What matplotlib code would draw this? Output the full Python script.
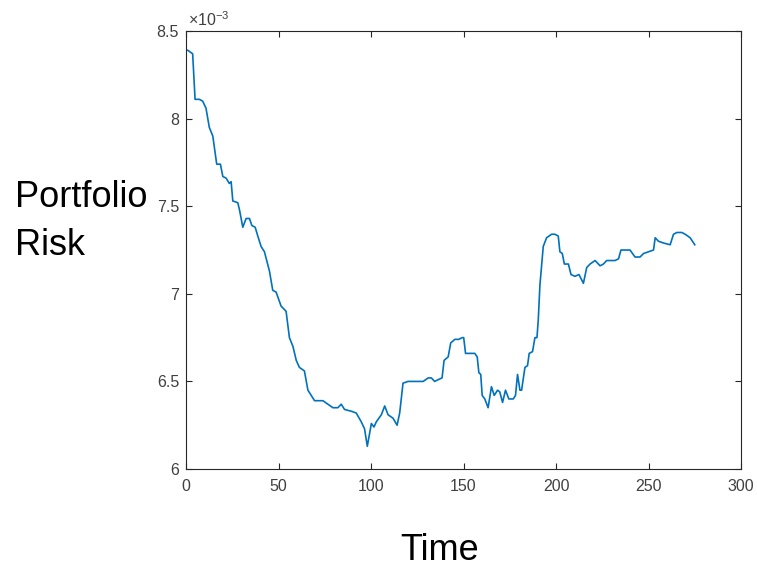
import matplotlib
matplotlib.use('Agg')
import matplotlib.pyplot as plt
from matplotlib.ticker import FuncFormatter

# portfolio risk, in units of 1e-3
time = [0, 1, 3.6, 4.9, 7.2, 9.0, 10.8, 12.6, 14.5, 16.6, 18.6, 19.9, 21.7, 23.4,
        24.4, 25.3, 28.0, 28.9, 30.7, 32.5, 34.3, 35.6, 37.4, 38.8, 40.6, 42.4,
        45.1, 46.9, 48.7, 51.4, 54.1, 55.9, 57.8, 59.6, 61.3, 64.0, 65.9, 67.7,
        69.5, 74.0, 76.7, 79.4, 82.1, 83.9, 85.7, 89.3, 92.0, 94.7, 96.5, 98.0,
        99.2, 100.2, 101.6, 102.9, 105.6, 107.4, 109.2, 111.9, 114.1, 115.5,
        117.3, 120.0, 125.4, 128.2, 130.9, 132.6, 134.4, 136.3, 138.4, 139.5,
        141.7, 143.1, 145.3, 147.4, 149.3, 150.1, 151.1, 153.4, 156.1, 157.4,
        158.3, 159.3, 160.1, 161.5, 163.3, 165.1, 166.6, 168.4, 169.6, 171.1,
        172.7, 174.5, 176.9, 178.1, 179.2, 180.5, 181.4, 183.2, 184.6, 185.5,
        187.3, 188.6, 189.7, 190.4, 191.3, 193.1, 194.9, 197.6, 199.4, 201.2,
        202.1, 203.4, 204.5, 206.7, 208.1, 210.2, 212.4, 214.8, 216.6, 218.4,
        221.1, 223.8, 225.6, 227.4, 231.9, 233.8, 235.1, 237.3, 240.0, 242.7,
        245.4, 247.3, 250.0, 252.7, 253.6, 255.4, 258.1, 261.7, 263.5, 265.3,
        268.0, 269.8, 272.5, 275.0]
risk = [8.39, 8.39, 8.37, 8.11, 8.11, 8.10, 8.06, 7.95, 7.90, 7.74, 7.74, 7.67,
        7.66, 7.63, 7.64, 7.53, 7.52, 7.48, 7.38, 7.43, 7.43, 7.39, 7.38, 7.33,
        7.27, 7.24, 7.13, 7.02, 7.01, 6.93, 6.90, 6.75, 6.70, 6.62, 6.58, 6.56,
        6.45, 6.42, 6.39, 6.39, 6.37, 6.35, 6.35, 6.37, 6.34, 6.33, 6.32, 6.27,
        6.23, 6.13, 6.20, 6.26, 6.24, 6.27, 6.31, 6.36, 6.31, 6.29, 6.25, 6.32,
        6.49, 6.50, 6.50, 6.50, 6.52, 6.52, 6.50, 6.51, 6.52, 6.62, 6.64, 6.72,
        6.74, 6.74, 6.75, 6.75, 6.66, 6.66, 6.66, 6.64, 6.55, 6.54, 6.42, 6.40,
        6.35, 6.47, 6.42, 6.45, 6.44, 6.38, 6.45, 6.40, 6.40, 6.42, 6.54, 6.45,
        6.45, 6.58, 6.59, 6.66, 6.67, 6.75, 6.75, 6.85, 7.05, 7.27, 7.32, 7.34,
        7.34, 7.33, 7.24, 7.23, 7.17, 7.17, 7.11, 7.10, 7.11, 7.06, 7.15, 7.17,
        7.19, 7.16, 7.17, 7.19, 7.19, 7.20, 7.25, 7.25, 7.25, 7.21, 7.21, 7.23,
        7.24, 7.25, 7.32, 7.30, 7.29, 7.28, 7.34, 7.35, 7.35, 7.34, 7.32, 7.28]

xticks = [0, 50, 100, 150, 200, 250, 300]
yticks = [6, 6.5, 7, 7.5, 8, 8.5]

plt.rcParams['font.family'] = ['Liberation Sans', 'DejaVu Sans']
plt.rcParams['mathtext.default'] = 'regular'

fig = plt.figure(figsize=(7.57, 5.69), dpi=100)
ax = fig.add_axes([0.2457, 0.1757, 0.7332, 0.7698])
ax.plot(time, risk, color='#0072BD', lw=1.2)

ax.set_xlim(0, 300)
ax.set_ylim(6, 8.5)
ax.set_xticks(xticks)
ax.set_yticks(yticks)
ax.yaxis.set_major_formatter(FuncFormatter(lambda v, p: f'{v:g}'))
ax.tick_params(direction='in', length=4, width=0.8, colors='#262626',
               labelcolor='#404040', labelsize=11.5, top=True, right=True)
ax.tick_params(axis='x', pad=7)
ax.tick_params(axis='y', pad=5)
for s in ax.spines.values():
    s.set_color('#262626')
    s.set_linewidth(0.8)

ax.text(0.003, 1.005, '×10$^{-3}$', transform=ax.transAxes,
        ha='left', va='bottom', fontsize=11.5, color='#404040')

fig.text(15 / 757, 0.6367, 'Portfolio', fontsize=26, ha='left', va='baseline')
fig.text(15 / 757, 0.5518, 'Risk', fontsize=26, ha='left', va='baseline')
fig.text(440 / 757, 0.002, 'Time', fontsize=26, ha='center', va='bottom')

fig.savefig('out.png', dpi=100)
